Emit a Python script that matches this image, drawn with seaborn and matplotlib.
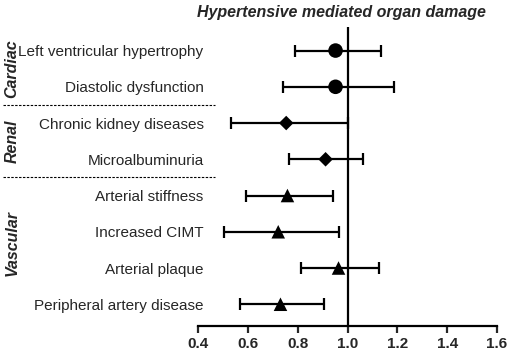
import matplotlib
matplotlib.use("Agg")
import matplotlib.pyplot as plt
import matplotlib.transforms as mtransforms
import seaborn as sns
import pandas as pd
import numpy as np

# values
outcomes = ["Left ventricular hypertrophy", "Diastolic dysfunction",
            "Chronic kidney diseases", "Microalbuminuria",
            "Arterial stiffness", "Increased CIMT",
            "Arterial plaque", "Peripheral artery disease"]
groups = ["Cardiac", "Cardiac", "Renal", "Renal",
          "Vascular", "Vascular", "Vascular", "Vascular"]
estimate = [0.952, 0.952, 0.754, 0.912, 0.759, 0.722, 0.964, 0.731]
lower = [0.791, 0.741, 0.532, 0.767, 0.593, 0.505, 0.813, 0.569]
upper = [1.134, 1.185, 1.004, 1.064, 0.941, 0.964, 1.127, 0.906]
x_ticks = [0.4, 0.6, 0.8, 1.0, 1.2, 1.4, 1.6]

df = pd.DataFrame({"outcome": outcomes, "group": groups,
                   "est": estimate, "lo": lower, "hi": upper})
df["pos"] = np.arange(len(df))

sns.set_style("white")
plt.rcParams["font.family"] = ["Liberation Sans", "DejaVu Sans"]

fig = plt.figure(figsize=(5.1, 3.53), dpi=100)
ax = fig.add_axes([198 / 510, 1 - 326 / 353, 299 / 510, 299 / 353])

# confidence intervals
ax.errorbar(df["est"], df["pos"],
            xerr=[df["est"] - df["lo"], df["hi"] - df["est"]],
            fmt="none", ecolor="black", elinewidth=1.6, capsize=4.5,
            capthick=1.6, zorder=2)

# point estimates
sns.scatterplot(data=df, x="est", y="pos", style="group",
                markers={"Cardiac": "o", "Renal": "D", "Vascular": "^"},
                color="black", s=95, edgecolor="black", linewidth=0,
                legend=False, ax=ax, zorder=3)
ax.collections[-1].set_sizes([110 if g == "Cardiac" else 55 if g == "Renal" else 95
                              for g in df["group"]])

ax.axvline(1.0, color="black", lw=1.6, zorder=1)

ax.set_xlim(0.4, 1.6)
ax.set_ylim(7.6, -0.65)
ax.set_xticks(x_ticks)
ax.set_xticklabels([f"{t:.1f}" for t in x_ticks], fontweight="bold", fontsize=11)
ax.set_yticks(df["pos"])
ax.set_yticklabels(df["outcome"], fontsize=11)
ax.tick_params(axis="y", length=0, pad=-4)
ax.tick_params(axis="x", direction="out", length=5, width=1.6, pad=3, bottom=True)
ax.set_xlabel("")
ax.set_ylabel("")
for side in ["left", "right", "top"]:
    ax.spines[side].set_visible(False)
ax.spines["bottom"].set_linewidth(1.6)
ax.spines["bottom"].set_color("black")

# group separators
for y in [1.5, 3.5]:
    ax.axhline(y, xmin=-0.652, xmax=0.057, color="black", lw=0.8,
               ls=(0, (2.2, 1.3)), clip_on=False)

trans = mtransforms.blended_transform_factory(ax.transAxes, ax.transData)
for name, yc in [("Cardiac", 0.5), ("Renal", 2.5), ("Vascular", 5.3)]:
    ax.text(-0.622, yc, name, transform=trans, rotation=90, ha="center",
            va="center", fontsize=11.5, fontweight="bold", fontstyle="italic")

ax.set_title("Hypertensive mediated organ damage", fontsize=11.5,
             fontweight="bold", fontstyle="italic", pad=7, x=0.48)

fig.savefig("out.png", dpi=100)
